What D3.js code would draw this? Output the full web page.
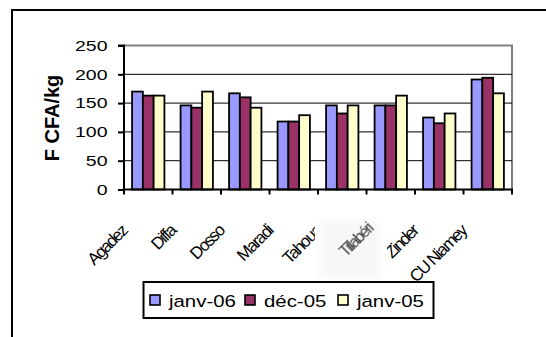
<!DOCTYPE html>
<html>
<head>
<meta charset="utf-8">
<script src="https://cdn.jsdelivr.net/npm/d3@7"></script>
<style>
  html, body { margin: 0; padding: 0; background: #fff; }
  svg { display: block; }
  text { font-family: "Liberation Sans", Arial, sans-serif; fill: #000; }
</style>
</head>
<body>
<svg id="chart" width="546" height="337"></svg>
<script>
// Prix moyen par région (F CFA/kg)
const regions = ["Agadez", "Diffa", "Dosso", "Maradi", "Tahoua", "Tillabéri", "Zinder", "CU Niamey"];
const periods = ["janv-06", "déc-05", "janv-05"];
const janv06 = [170, 146, 167, 118, 146, 146, 125, 191];
const dec05  = [163, 142, 160, 118, 132, 146, 115, 194];
const janv05 = [163, 170, 142, 129, 146, 163, 132, 167];
const yTicks = [0, 50, 100, 150, 200, 250];
const colors = ["#9999FF", "#993366", "#FFFFCC"];

const seriesValues = [janv06, dec05, janv05];
const rows = regions.map((r, i) => ({
  region: r,
  values: periods.map((p, k) => ({ period: p, value: seriesValues[k][i], color: colors[k] }))
}));

const svg = d3.select("#chart");
const plot = { left: 124, right: 512, top: 45.5, bottom: 189.5 };

// Outer frame (only left and top edges fall inside the view)
svg.append("rect")
  .attr("x", 12).attr("y", 10)
  .attr("width", 600).attr("height", 400)
  .attr("fill", "none").attr("stroke", "#000").attr("stroke-width", 2);

const x0 = d3.scaleBand().domain(regions).range([plot.left, plot.right]).padding(0);
const x1 = d3.scaleBand().domain(periods).range([0, x0.bandwidth()])
  .paddingInner(0).paddingOuter(0.75);
const y = d3.scaleLinear().domain([0, 250]).range([plot.bottom, plot.top]);

// Plot-area border (grey top and right)
svg.append("path")
  .attr("d", `M${plot.left},${plot.top}H${plot.right}V${plot.bottom}`)
  .attr("fill", "none").attr("stroke", "#808080").attr("stroke-width", 2);

// Horizontal gridlines
svg.append("g").selectAll("line")
  .data(yTicks.filter(t => t > 0 && t < 250))
  .join("line")
  .attr("x1", plot.left).attr("x2", plot.right)
  .attr("y1", d => y(d)).attr("y2", d => y(d))
  .attr("stroke", "#000").attr("stroke-width", 1);

// Bars
const groups = svg.append("g").selectAll("g")
  .data(rows).join("g")
  .attr("transform", d => `translate(${x0(d.region)},0)`);
groups.selectAll("rect")
  .data(d => d.values).join("rect")
  .attr("x", d => x1(d.period))
  .attr("y", d => y(d.value))
  .attr("width", x1.bandwidth())
  .attr("height", d => y(0) - y(d.value))
  .attr("fill", d => d.color)
  .attr("stroke", "#000").attr("stroke-width", 1.8);

// Y axis
const yAxis = svg.append("g")
  .attr("transform", `translate(${plot.left},0)`)
  .call(d3.axisLeft(y).tickValues(yTicks).tickSize(6).tickFormat(""));
yAxis.selectAll("path, line").attr("stroke", "#000").attr("stroke-width", 2);
yAxis.select(".domain").attr("d", `M-6,${y(250)}H0V${y(0)}`);

// Y tick labels (wide rendering)
const sxY = 1.3;
svg.append("g").selectAll("text")
  .data(yTicks).join("text")
  .attr("transform", d => `translate(107.5,${y(d) + 5.3}) scale(${sxY},1)`)
  .attr("text-anchor", "end")
  .attr("font-size", 15)
  .text(d => d);

// X axis with ticks at category boundaries
const bounds = regions.map(r => x0(r)).concat([plot.right]);
svg.append("line")
  .attr("x1", plot.left - 1).attr("x2", plot.right + 1)
  .attr("y1", plot.bottom).attr("y2", plot.bottom)
  .attr("stroke", "#000").attr("stroke-width", 2);
svg.append("g").selectAll("line")
  .data(bounds).join("line")
  .attr("x1", d => d).attr("x2", d => d)
  .attr("y1", plot.bottom).attr("y2", plot.bottom + 5)
  .attr("stroke", "#000").attr("stroke-width", 2);

// Rotated category labels
const defs = svg.append("defs");
defs.append("filter").attr("id", "soft")
  .attr("x", "-20%").attr("y", "-20%").attr("width", "140%").attr("height", "140%")
  .append("feGaussianBlur").attr("stdDeviation", 0.7);
defs.append("filter").attr("id", "haze")
  .attr("x", "-20%").attr("y", "-20%").attr("width", "140%").attr("height", "140%")
  .append("feGaussianBlur").attr("stdDeviation", 4);

const labelY = 232;
const labelDX = -20;
const xLabels = svg.append("g");
const labelNodes = [];
regions.forEach((r) => {
  const cx = x0(r) + x0.bandwidth() / 2;
  const t = xLabels.append("text")
    .attr("transform", `translate(${cx + labelDX},${labelY}) rotate(-45)`)
    .attr("text-anchor", "end")
    .attr("font-size", 17)
    .attr("letter-spacing", -1.6)
    .text(r);
  labelNodes.push({ r, t, cx });
});
// washed-out patch behind the Tillabéri label, covering the end of its neighbour
const til = labelNodes.find(d => d.r === "Tillabéri");
xLabels.append("rect")
  .attr("x", 315).attr("y", 210).attr("width", 72).attr("height", 72)
  .attr("fill", "#fff");
xLabels.append("rect")
  .attr("x", 320).attr("y", 222).attr("width", 60).attr("height", 56)
  .attr("fill", "#f7f7f7").attr("filter", "url(#haze)");
til.t.raise()
  .attr("transform", `translate(${til.cx - 17},${labelY - 2}) rotate(-45)`)
  .attr("font-size", 16)
  .attr("letter-spacing", -1.8)
  .style("fill", "#444")
  .attr("filter", "url(#soft)");

// Y axis title
svg.append("text")
  .attr("transform", "translate(59,118) rotate(-90)")
  .attr("text-anchor", "middle")
  .attr("font-size", 20)
  .attr("font-weight", "bold")
  .text("F CFA/kg");

// Legend
const legend = svg.append("g");
legend.append("rect")
  .attr("x", 143.5).attr("y", 282).attr("width", 290).attr("height", 36)
  .attr("fill", "#fff").attr("stroke", "#000").attr("stroke-width", 2);
const legendX = [150, 245, 338];
const sxL = 1.2;
periods.forEach((p, k) => {
  legend.append("rect")
    .attr("x", legendX[k]).attr("y", 295).attr("width", 10).attr("height", 10)
    .attr("fill", colors[k]).attr("stroke", "#000").attr("stroke-width", 1.6);
  legend.append("text")
    .attr("transform", `translate(${legendX[k] + 19},${306.5}) scale(${sxL},1)`)
    .attr("font-size", 17)
    .text(p);
});
</script>
</body>
</html>
